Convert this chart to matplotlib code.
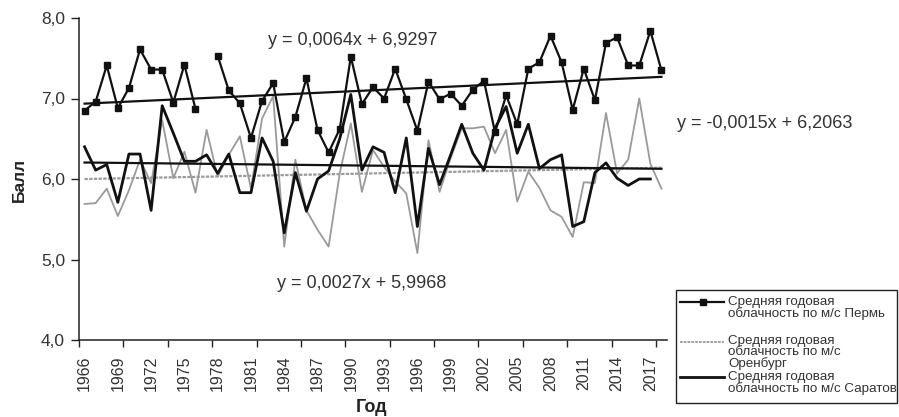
import numpy as np
import matplotlib
matplotlib.use("Agg")
import matplotlib.pyplot as plt
from matplotlib.lines import Line2D
from matplotlib.patches import Rectangle

plt.rcParams['font.family'] = ['Liberation Sans', 'DejaVu Sans']

years = list(range(1966, 2019))
nan = np.nan
perm = [6.85, 6.96, 7.41, 6.88, 7.13, 7.61, 7.36, 7.36, 6.95, 7.42,
        6.87, nan, 7.53, 7.10, 6.94, 6.51, 6.97, 7.19, 6.46, 6.77,
        7.25, 6.61, 6.33, 6.62, 7.52, 6.93, 7.14, 7.00, 7.37, 6.99,
        6.60, 7.21, 6.99, 7.06, 6.91, 7.11, 7.22, 6.58, 7.04, 6.68,
        7.37, 7.45, 7.78, 7.45, 6.86, 7.37, 6.98, 7.69, 7.76, 7.41,
        7.41, 7.84, 7.35]
orenburg = [5.69, 5.70, 5.88, 5.54, 5.86, 6.24, 5.95, 6.73, 6.01, 6.34,
            5.83, 6.61, 6.03, 6.30, 6.53, 5.88, 6.75, 7.03, 5.16, 6.24,
            5.61, 5.37, 5.16, 6.07, 6.69, 5.84, 6.36, 6.15, 5.97, 5.82,
            5.08, 6.48, 5.84, 6.26, 6.63, 6.63, 6.65, 6.32, 6.61, 5.72,
            6.09, 5.89, 5.61, 5.53, 5.28, 5.96, 5.95, 6.82, 6.07, 6.24,
            7.00, 6.19, 5.88]
saratov = [6.40, 6.11, 6.18, 5.71, 6.31, 6.31, 5.61, 6.91, 6.57, 6.22,
           6.22, 6.30, 6.07, 6.31, 5.83, 5.83, 6.51, 6.22, 5.33, 6.08,
           5.60, 6.00, 6.10, 6.50, 7.05, 6.11, 6.40, 6.33, 5.83, 6.51,
           5.41, 6.38, 5.93, 6.30, 6.68, 6.32, 6.11, 6.63, 6.90, 6.32,
           6.68, 6.13, 6.24, 6.30, 5.41, 5.47, 6.08, 6.20, 6.01, 5.92,
           6.00, 6.00, nan]

# trend coefficients (slope, intercept) in terms of x = 1..N
trend_perm = (0.0064, 6.9297)
trend_oren = (0.0027, 5.9968)
trend_sar = (-0.0015, 6.2063)

label_years = list(range(1966, 2018, 3))
yticks = [4.0, 5.0, 6.0, 7.0, 8.0]

W, H = 899, 417
fig = plt.figure(figsize=(W / 100, H / 100), dpi=100)
ax = fig.add_axes([79 / W, 1 - 340 / H, (667 - 79) / W, (340 - 18) / H])

x = np.array(years, dtype=float)
idx = np.arange(1, len(years) + 1)

ax.plot(x, orenburg, color='#9a9a9a', lw=1.3, zorder=2)
ax.plot(x, saratov, color='#111111', lw=2.0, zorder=3)
ax.plot(x, perm, color='#111111', lw=1.6, marker='s', ms=4.2, zorder=4)

ax.plot(x, trend_oren[0] * idx + trend_oren[1], color='#9a9a9a', lw=1.6, ls=(0, (1.5, 0.6)), zorder=2)
ax.plot(x, trend_sar[0] * idx + trend_sar[1], color='#111111', lw=1.6, zorder=3)
ax.plot(x, trend_perm[0] * idx + trend_perm[1], color='#111111', lw=1.6, zorder=4)

ax.set_xlim(1965.5, 2018.5)
ax.set_ylim(4.0, 8.0)
ax.set_yticks(yticks)
ax.set_yticklabels([f"{v:.1f}".replace('.', ',') for v in yticks], fontsize=12.5, color='#333333')
ax.set_xticks(label_years)
ax.set_xticklabels([str(y) for y in label_years], rotation=90, fontsize=11.5, color='#333333')
ax.set_xticks(np.arange(1965.5, 2018.6, 4), minor=True)
ax.tick_params(axis='x', which='major', length=0, pad=11)
ax.tick_params(axis='x', which='minor', length=5, width=1.0, direction='out', color='#222222')
ax.tick_params(axis='y', length=6, width=1.0, direction='out', color='#222222', pad=4)
for s in ['top', 'right']:
    ax.spines[s].set_visible(False)
for s in ['left', 'bottom']:
    ax.spines[s].set_linewidth(1.1)
    ax.spines[s].set_color('#222222')

# overlay in pixel coordinates for annotations & legend
ov = fig.add_axes([0, 0, 1, 1], facecolor='none')
ov.set_xlim(0, W)
ov.set_ylim(H, 0)
ov.axis('off')

def eq(a, b):
    return f"y = {a:.4f}x + {b:.4f}".replace('.', ',')

ov.text(268, 40, eq(*trend_perm), fontsize=13, va='center', ha='left', color='#333333')
ov.text(677, 123, eq(*trend_sar), fontsize=13, va='center', ha='left', color='#333333')
ov.text(277, 283, eq(*trend_oren), fontsize=13, va='center', ha='left', color='#333333')

ov.text(19, 180, 'Балл', rotation=90, fontsize=12.5, fontweight='bold', va='center', ha='center', color='#222222')
ov.text(372, 408, 'Год', fontsize=13, fontweight='bold', va='center', ha='center', color='#222222')

# legend
ov.add_patch(Rectangle((676, 290), 221, 113, fill=False, lw=1.0, edgecolor='#222222'))
ov.add_line(Line2D([680, 724], [302, 302], color='#111111', lw=1.6))
ov.add_line(Line2D([703], [302], color='#111111', marker='s', ms=4.2))
ov.add_line(Line2D([680, 724], [342, 342], color='#9a9a9a', lw=1.3, ls=(0, (1.5, 0.6))))
ov.add_line(Line2D([680, 724], [377, 377], color='#111111', lw=2.0))
fs = 9.6
ls = 0.92
ov.text(728, 296, 'Средняя годовая\nоблачность по м/с Пермь', fontsize=fs, va='top', ha='left', linespacing=ls, color='#333333')
ov.text(728, 335, 'Средняя годовая\nоблачность по м/с\nОренбург', fontsize=fs, va='top', ha='left', linespacing=ls, color='#333333')
ov.text(728, 371, 'Средняя годовая\nоблачность по м/с Саратов', fontsize=fs, va='top', ha='left', linespacing=ls, color='#333333')

fig.savefig('out.png', dpi=100)
